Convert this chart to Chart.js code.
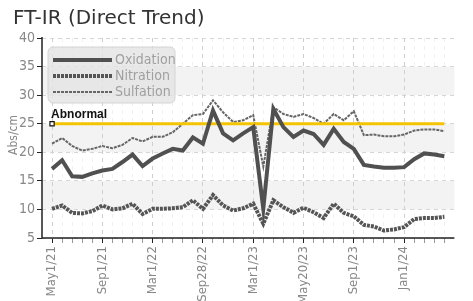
<!DOCTYPE html>
<html lang="en">
<head>
  <meta charset="UTF-8">
  <title>FT-IR (Direct Trend)</title>
  <script src="https://cdn.jsdelivr.net/npm/chart.js"></script>
  <style>
    html, body {
      margin: 0;
      padding: 0;
      background: #fff;
    }

    #chart-container {
      position: relative;
      width: 473px;
      height: 301px;
    }
  </style>
</head>
<body>
  <div id="chart-container">
    <canvas id="ftirChart"></canvas>
  </div>

  <script>
    // tick labels, one every 5 samples
    const tickLabels = ['May1/21', 'Sep1/21', 'Mar1/22', 'Sep28/22', 'Mar1/23', 'May20/23', 'Sep1/23', 'Jan1/24'];
    const labelEvery = 5;

    const oxidation = [17.1, 18.6, 15.8, 15.7, 16.3, 16.8, 17.1, 18.3, 19.6, 17.6,
                       18.9, 19.8, 20.6, 20.3, 22.6, 21.5, 27.3, 23.3, 22.1, 23.3,
                       24.4, 10.1, 27.6, 24.4, 22.7, 23.8, 23.2, 21.3, 24.1, 21.8,
                       20.6, 17.8, 17.5, 17.3, 17.3, 17.4, 18.8, 19.8, 19.6, 19.3];
    const nitration = [10.1, 10.7, 9.4, 9.3, 9.7, 10.7, 10.0, 10.2, 11.0, 9.2,
                       10.1, 10.1, 10.2, 10.4, 11.6, 10.1, 12.5, 10.7, 9.8, 10.2,
                       11.0, 7.5, 11.6, 10.4, 9.4, 10.3, 9.5, 8.5, 11.0, 9.4,
                       8.8, 7.3, 7.0, 6.3, 6.5, 6.9, 8.3, 8.5, 8.5, 8.7];
    const sulfation = [21.5, 22.5, 21.1, 20.3, 20.6, 21.1, 20.7, 21.3, 22.5, 21.9,
                       22.7, 22.7, 23.5, 25.0, 26.5, 26.7, 29.1, 27.0, 25.3, 25.6,
                       26.5, 17.5, 27.9, 26.7, 26.2, 26.7, 26.0, 25.0, 26.7, 25.6,
                       27.2, 23.0, 23.1, 22.8, 22.8, 23.1, 23.8, 24.0, 24.0, 23.7];
    const abnormalLevel = 25;

    // shaded horizontal bands [from, to]
    const bands = [[30, 35], [20, 25], [10, 15]];

    const narrow = "'Liberation Sans Narrow', 'DejaVu Sans Condensed', sans-serif";

    const toPoints = arr => arr.map((v, i) => ({ x: i, y: v }));
    const lastIndex = oxidation.length - 1;

    const decorations = {
      id: 'decorations',
      beforeDraw(chart) {
        const { ctx, chartArea: a, scales: { y } } = chart;
        ctx.save();
        ctx.fillStyle = '#f3f3f3';
        bands.forEach(([lo, hi]) => {
          const top = y.getPixelForValue(hi);
          const bottom = y.getPixelForValue(lo);
          ctx.fillRect(a.left, top, a.right - a.left, bottom - top);
        });
        ctx.restore();
      },
      afterDraw(chart) {
        const { ctx, chartArea: a, scales: { x, y } } = chart;
        ctx.save();

        // solid axis lines
        ctx.strokeStyle = '#222';
        ctx.lineWidth = 1.5;
        ctx.beginPath();
        ctx.moveTo(a.left, a.top - 1);
        ctx.lineTo(a.left, a.bottom);
        ctx.lineTo(a.right, a.bottom);
        ctx.stroke();

        // title
        ctx.fillStyle = '#333';
        ctx.font = '20px "DejaVu Sans", sans-serif';
        ctx.textBaseline = 'alphabetic';
        ctx.fillText('FT-IR (Direct Trend)', 13, 24);

        // y axis title
        ctx.save();
        ctx.translate(17, 135);
        ctx.rotate(-Math.PI / 2);
        ctx.textAlign = 'center';
        ctx.fillStyle = '#888';
        ctx.font = '12px ' + narrow;
        ctx.fillText('Abs/cm', 0, 0);
        ctx.restore();

        // abnormal label
        ctx.fillStyle = '#111';
        ctx.font = 'bold 12px "Liberation Sans", sans-serif';
        ctx.textBaseline = 'bottom';
        ctx.fillText('Abnormal', x.getPixelForValue(0) - 1, y.getPixelForValue(abnormalLevel) - 3);

        // legend box
        const lx = 48, ly = 47, lw = 127, lh = 56;
        ctx.beginPath();
        ctx.roundRect(lx, ly, lw, lh, 5);
        ctx.fillStyle = 'rgba(228,228,228,0.8)';
        ctx.fill();
        ctx.strokeStyle = '#d4d4d4';
        ctx.lineWidth = 1;
        ctx.stroke();

        const items = chart.data.datasets.filter(d => d.inLegend);
        items.forEach((d, i) => {
          const yy = 60 + i * 16;
          ctx.beginPath();
          ctx.setLineDash(d.borderDash || []);
          ctx.strokeStyle = d.borderColor;
          ctx.lineWidth = d.borderWidth;
          ctx.moveTo(53, yy);
          ctx.lineTo(112, yy);
          ctx.stroke();
          ctx.setLineDash([]);
          ctx.fillStyle = '#a0a0a0';
          ctx.font = '14px ' + narrow;
          ctx.textBaseline = 'middle';
          ctx.fillText(d.label, 115, yy);
        });

        ctx.restore();
      }
    };

    new Chart(document.getElementById('ftirChart'), {
      type: 'line',
      data: {
        datasets: [
          {
            label: 'Oxidation',
            inLegend: true,
            data: toPoints(oxidation),
            borderColor: '#505050',
            borderWidth: 4,
            pointRadius: 0,
            tension: 0
          },
          {
            label: 'Abnormal',
            data: toPoints(oxidation.map(() => abnormalLevel)),
            borderColor: '#f5c400',
            borderWidth: 3,
            pointStyle: 'rect',
            pointRadius: oxidation.map((_, i) => (i === 0 ? 3 : 0)),
            pointBackgroundColor: '#fff',
            pointBorderColor: '#111',
            pointBorderWidth: 1.2
          },
          {
            label: 'Nitration',
            inLegend: true,
            data: toPoints(nitration),
            borderColor: '#555',
            borderWidth: 4,
            borderDash: [3, 1],
            pointRadius: 0,
            tension: 0
          },
          {
            label: 'Sulfation',
            inLegend: true,
            data: toPoints(sulfation),
            borderColor: '#666',
            borderWidth: 2,
            borderDash: [3, 1],
            pointRadius: 0,
            tension: 0
          }
        ]
      },
      options: {
        responsive: true,
        maintainAspectRatio: false,
        animation: false,
        layout: { padding: { top: 38, right: 0, left: 0, bottom: 0 } },
        plugins: {
          legend: { display: false },
          tooltip: { enabled: false }
        },
        scales: {
          x: {
            type: 'linear',
            min: -1,
            max: lastIndex + 1,
            afterFit: s => { s.height = 63; },
            ticks: {
              stepSize: 1,
              autoSkip: false,
              minRotation: 90,
              maxRotation: 90,
              color: '#888',
              font: { family: narrow, size: 13 },
              padding: 3,
              callback: v => (v >= 0 && v % labelEvery === 0 ? tickLabels[v / labelEvery] || '' : '')
            },
            grid: {
              drawOnChartArea: true,
              tickLength: 5,
              color: c => {
                const v = c.tick.value;
                if (v < 0 || v > lastIndex) return 'rgba(0,0,0,0)';
                return v % labelEvery === 0 ? '#cfcfcf' : '#f1f1f1';
              },
              tickColor: c => {
                const v = c.tick.value;
                if (v < 0 || v > lastIndex) return 'rgba(0,0,0,0)';
                return v % labelEvery === 0 ? '#222' : '#999';
              }
            },
            border: { display: false, dash: [4, 4] }
          },
          y: {
            min: 5,
            max: 40,
            afterFit: s => { s.width = 42; },
            ticks: {
              stepSize: 5,
              color: '#888',
              font: { family: narrow, size: 14 },
              padding: 2
            },
            grid: {
              color: '#d6d6d6',
              tickColor: '#222',
              tickLength: 5
            },
            border: { display: false, dash: [4, 4] }
          }
        }
      },
      plugins: [decorations]
    });
  </script>
</body>
</html>
